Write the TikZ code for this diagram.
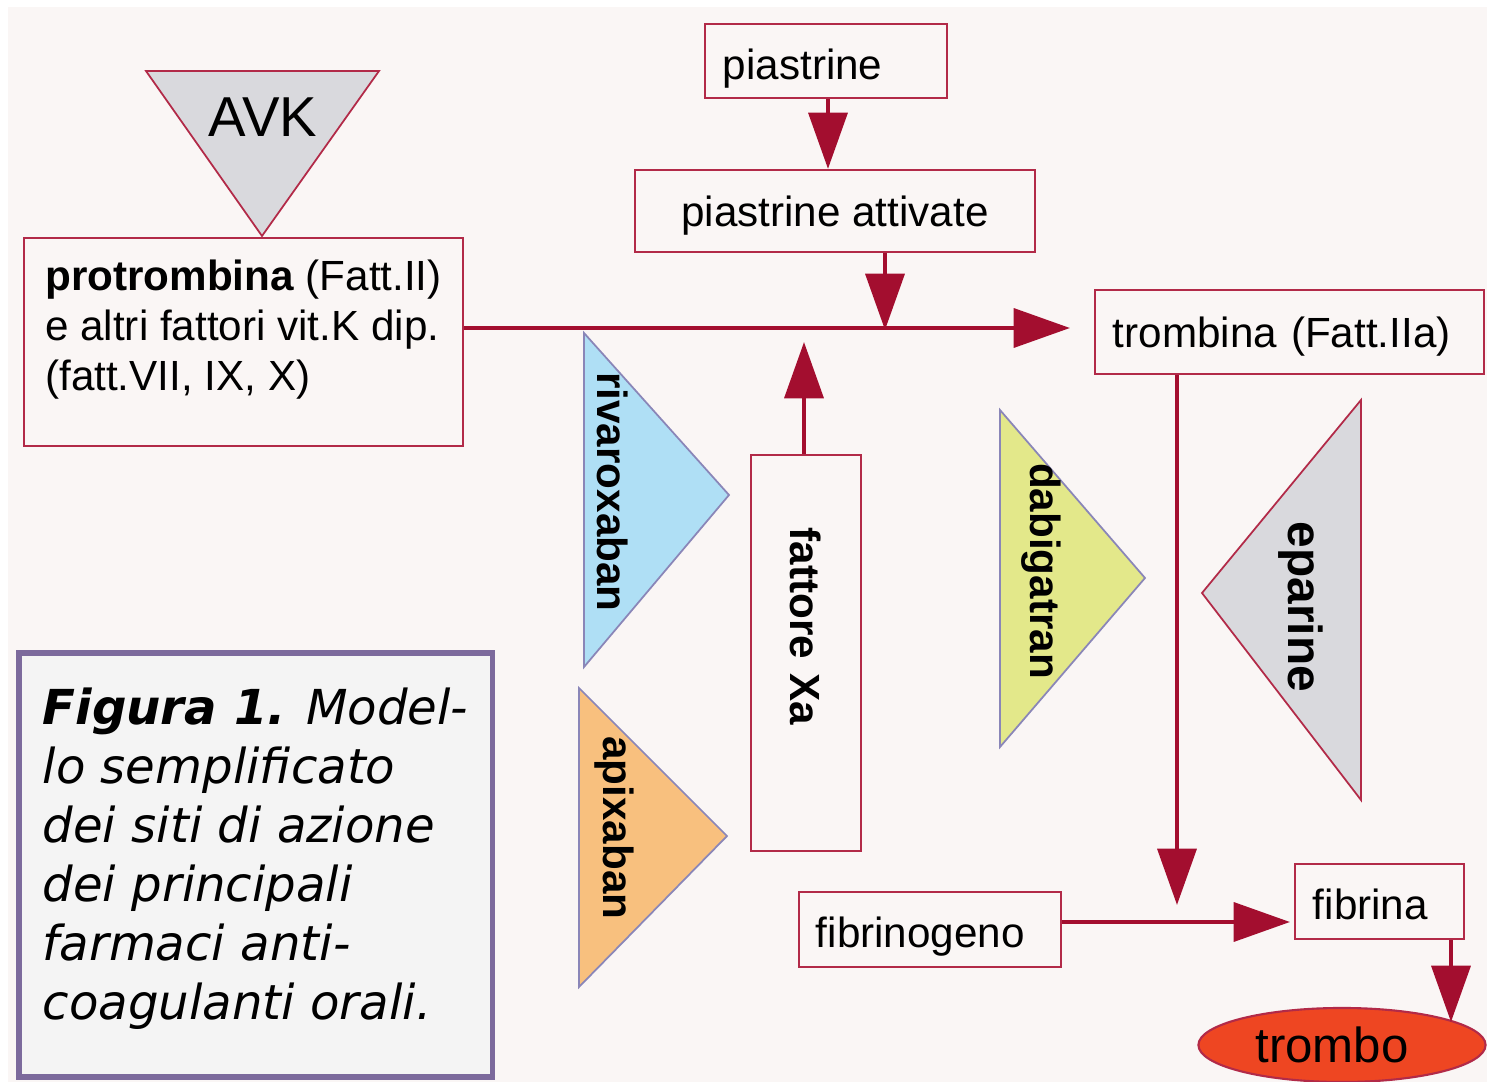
\documentclass[tikz,border=0pt]{standalone}
\usepackage{fontspec}
\setmainfont{Liberation Sans}
\newfontfamily\capfont{DejaVu Sans}[BoldFont={DejaVu Sans Bold},ItalicFont={DejaVu Sans Oblique},BoldItalicFont={DejaVu Sans Bold Oblique}]
\usetikzlibrary{arrows.meta,shapes.geometric}

\definecolor{sfondo}{HTML}{FAF6F5}
\definecolor{bordorosso}{HTML}{B22A48}
\definecolor{freccrosso}{HTML}{A30E2F}
\definecolor{grigiotri}{HTML}{D9D9DD}
\definecolor{lilla}{HTML}{8A86B8}
\definecolor{azzurro}{HTML}{AFDFF5}
\definecolor{arancio}{HTML}{F8C07E}
\definecolor{giallo}{HTML}{E3E88A}
\definecolor{rossotrombo}{HTML}{EE4622}
\definecolor{viola}{HTML}{7C6A9C}
\definecolor{grigiocap}{HTML}{F4F4F4}

\begin{document}
\begin{tikzpicture}[x=0.01cm, y=-0.01cm, font=\fontsize{12}{14.2}\selectfont,
    stadio/.style={draw=bordorosso, line width=0.6pt, inner sep=0pt},
    freccia/.style={draw=freccrosso, line width=1.3pt, -{Triangle[length=16pt,width=11pt]}},
    farmaco/.style={font=\bfseries\fontsize{12}{14}\selectfont, inner sep=0pt}]

    \useasboundingbox (0,0) rectangle (1487,1082);
    \fill[sfondo] (8,7) rectangle (1487,1082);

    % triangoli dei farmaci
    \filldraw[fill=grigiotri, draw=bordorosso, line width=0.5pt] (146,71) -- (379,71) -- (262,236) -- cycle;
    \filldraw[fill=azzurro, draw=lilla, line width=0.5pt] (584,333) -- (729,495) -- (584,667) -- cycle;
    \filldraw[fill=arancio, draw=lilla, line width=0.5pt] (579,688) -- (727,836) -- (579,987) -- cycle;
    \filldraw[fill=giallo, draw=lilla, line width=0.5pt] (1000,410) -- (1145,578) -- (1000,747) -- cycle;
    \filldraw[fill=grigiotri, draw=bordorosso, line width=0.5pt] (1361,400) -- (1202,593) -- (1361,800) -- cycle;

    \node[font=\fontsize{16}{18}\selectfont, inner sep=0pt] (avk) at (263,117) {AVK};
    \node[farmaco, rotate=-90] (riva) at (613,492) {rivaroxaban};
    \node[farmaco, rotate=-90] (apix) at (614,828) {apixaban};
    \node[farmaco, rotate=-90] (dabi) at (1041,571) {dabigatran};
    \node[farmaco, rotate=-90, font=\bfseries\fontsize{13.6}{15}\selectfont] (epar) at (1301,607) {eparine};

    % riquadri
    \node[stadio, minimum width=43.9mm, minimum height=20.8mm, align=left] (protrombina) at (243.5,342)
        {\textbf{protrombina} (Fatt.II)\\e altri fattori vit.K dip.\\(fatt.VII, IX, X)\rule[-9.7pt]{0pt}{0pt}};
    \node[stadio, minimum width=24.2mm, minimum height=7.4mm, text width=20.6mm, align=left,
        text height=10.8pt, text depth=0pt] (piastrine) at (826,61) {piastrine};
    \node[stadio, minimum width=40mm, minimum height=8.2mm, text height=8.6pt, text depth=0pt] (attivate) at (835,211) {piastrine attivate};
    \node[stadio, minimum width=38.9mm, minimum height=8.4mm, text width=35.3mm, align=left,
        text height=8.6pt, text depth=0pt] (trombina) at (1289.5,332) {trombina (Fatt.IIa)};
    \node[stadio, rotate=-90, minimum width=39.6mm, minimum height=11mm, text width=25mm, align=left,
        font=\bfseries\fontsize{12}{14}\selectfont] (fattore) at (806,653) {fattore Xa};
    \node[stadio, minimum width=26.2mm, minimum height=7.5mm, text width=22.8mm, align=left,
        text height=10.5pt, text depth=0pt] (fibrinogeno) at (930,929.5) {fibrinogeno};
    \node[stadio, minimum width=16.9mm, minimum height=7.5mm, text width=13.3mm, align=left,
        text height=10.5pt, text depth=0pt] (fibrina) at (1379.5,901.5) {fibrina};
    \node[ellipse, draw=bordorosso, fill=rossotrombo, line width=0.6pt, minimum width=28.7mm, minimum height=7.4mm, inner sep=0pt,
        font=\fontsize{14}{16}\selectfont] (trombo) at (1342,1045) {\hspace{-5.7pt}trombo};

    % didascalia
    \node[draw=viola, fill=grigiocap, line width=1.5pt, minimum width=47.3mm, minimum height=42.4mm, align=left, inner sep=0pt,
        font=\capfont\itshape\fontsize{13.7}{16.8}\selectfont] (didascalia) at (255.5,865)
        {\textbf{Figura 1.} Model-\\lo semplificato\\dei siti di azione\\dei principali\\farmaci anti-\\coagulanti orali.\rule[-6.6pt]{0pt}{0pt}};

    % frecce
    \coordinate (punta) at (1070,328);
    \coordinate (incrocio) at (885,330);
    \coordinate (xa) at (804,342);
    \coordinate (tf) at (1177,905);
    \coordinate (fb) at (1290,922);
    \coordinate (ft) at (1451,1022);

    \draw[freccia] (protrombina.east |- punta) -- (punta);
    \draw[freccia] (piastrine.south -| 828,0) -- (attivate.north -| 828,0);
    \draw[freccia] (attivate.south -| incrocio) -- (incrocio);
    \draw[freccia] (fattore.west -| xa) -- (xa);
    \draw[freccia] (trombina.south -| tf) -- (tf);
    \draw[freccia] (fibrinogeno.east |- fb) -- (fb);
    \draw[freccia] (fibrina.south -| ft) -- (ft);
\end{tikzpicture}
\end{document}
